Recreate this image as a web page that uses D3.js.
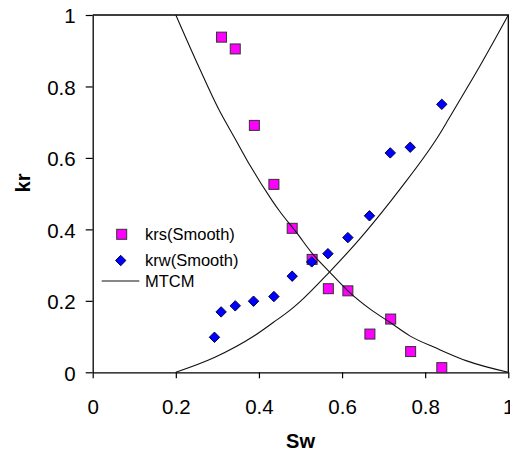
<!DOCTYPE html>
<html>
<head>
<meta charset="utf-8">
<script src="https://cdn.jsdelivr.net/npm/d3@7"></script>
<style>
  html, body { margin: 0; padding: 0; background: #fff; }
  svg { display: block; font-family: "Liberation Sans", Arial, sans-serif; }
</style>
</head>
<body>
<svg id="chart" width="510" height="453"></svg>
<script>
// Measured relative permeability (smoothed) for the solid/gas phase
const krsSw = [0.310, 0.343, 0.389, 0.436, 0.480, 0.528, 0.567, 0.614, 0.667, 0.717, 0.765, 0.840];
const krsVal = [0.938, 0.905, 0.691, 0.526, 0.403, 0.316, 0.234, 0.228, 0.107, 0.149, 0.058, 0.013];

// Measured relative permeability (smoothed) for water
const krwSw = [0.293, 0.309, 0.343, 0.387, 0.436, 0.480, 0.527, 0.566, 0.614, 0.666, 0.716, 0.764, 0.840];
const krwVal = [0.098, 0.169, 0.186, 0.199, 0.212, 0.269, 0.309, 0.332, 0.377, 0.438, 0.614, 0.630, 0.750];

// MTCM model curves
const mtcmSSw = [0.200, 0.258, 0.302, 0.342, 0.378, 0.431, 0.449, 0.491, 0.528, 0.569, 0.614, 0.671, 0.715, 0.763, 0.828, 0.900, 1.000];
const mtcmSVal = [1.000, 0.848, 0.739, 0.655, 0.580, 0.482, 0.452, 0.390, 0.333, 0.282, 0.228, 0.174, 0.140, 0.102, 0.067, 0.032, 0.000];
const mtcmWSw = [0.200, 0.294, 0.386, 0.435, 0.475, 0.499, 0.569, 0.640, 0.719, 0.739, 0.836, 0.856, 0.912, 0.932, 1.000];
const mtcmWVal = [0.000, 0.042, 0.100, 0.140, 0.174, 0.198, 0.280, 0.370, 0.482, 0.512, 0.669, 0.708, 0.818, 0.858, 1.000];

const tickValues = [0, 0.2, 0.4, 0.6, 0.8, 1];
const tickLabels = ["0", "0.2", "0.4", "0.6", "0.8", "1"];
const legendLabels = ["krs(Smooth)", "krw(Smooth)", "MTCM"];

const svg = d3.select("#chart");
const plotL = 92.7, plotR = 508.3, plotT = 15, plotB = 372.3;

const x = d3.scaleLinear().domain([0, 1]).range([plotL, plotR]);
const y = d3.scaleLinear().domain([0, 1]).range([plotB, plotT]);

// Plot frame (top and right edges)
svg.append("path")
  .attr("d", `M${plotL},${plotT}H${plotR}V${plotB}`)
  .attr("fill", "none").attr("stroke", "#000").attr("stroke-width", 1.3);

// Axes
const fmt = d => tickLabels[tickValues.indexOf(d)];
const xAxis = svg.append("g").attr("transform", `translate(0,${plotB})`)
  .call(d3.axisBottom(x).tickValues(tickValues).tickFormat(fmt).tickSize(6).tickPadding(21).tickSizeOuter(0));
const yAxis = svg.append("g").attr("transform", `translate(${plotL},0)`)
  .call(d3.axisLeft(y).tickValues(tickValues).tickFormat(fmt).tickSize(7).tickPadding(10).tickSizeOuter(0));

[xAxis, yAxis].forEach(g => {
  g.selectAll(".domain").attr("stroke", "#000").attr("stroke-width", 1.3);
  g.selectAll(".tick line").attr("stroke", "#000").attr("stroke-width", 1.2);
  g.selectAll(".tick text").attr("fill", "#000")
    .style("font-size", "20.5px").style("font-family", "'Liberation Sans', Arial, sans-serif");
});
yAxis.selectAll(".tick text").attr("dy", "0.38em");

// Axis titles
svg.append("text").attr("x", (plotL + plotR) / 2).attr("y", 448)
  .attr("text-anchor", "middle").style("font-size", "20px").style("font-weight", "bold")
  .text("Sw");
svg.append("text").attr("transform", "translate(30,183) rotate(-90)")
  .attr("text-anchor", "middle").style("font-size", "20px").style("font-weight", "bold")
  .text("kr");

// krs squares
const sq = 10;
svg.append("g").selectAll("rect")
  .data(d3.zip(krsSw, krsVal))
  .join("rect")
  .attr("x", d => x(d[0]) - sq / 2).attr("y", d => y(d[1]) - sq / 2)
  .attr("width", sq).attr("height", sq)
  .attr("fill", "#ff00ff").attr("stroke", "#333").attr("stroke-width", 1);

// krw diamonds
const diamond = (cx, cy, r) => `M${cx},${cy - r}L${cx + r},${cy}L${cx},${cy + r}L${cx - r},${cy}Z`;
svg.append("g").selectAll("path")
  .data(d3.zip(krwSw, krwVal))
  .join("path")
  .attr("d", d => diamond(x(d[0]), y(d[1]), 5.2))
  .attr("fill", "#0000ff").attr("stroke", "#000040").attr("stroke-width", 1);

// MTCM lines
const line = d3.line().x(d => x(d[0])).y(d => y(d[1])).curve(d3.curveMonotoneX);
[[mtcmSSw, mtcmSVal], [mtcmWSw, mtcmWVal]].forEach(([sw, kr]) => {
  svg.append("path").datum(d3.zip(sw, kr))
    .attr("d", line).attr("fill", "none").attr("stroke", "#111").attr("stroke-width", 1.1);
});

// Legend
const lg = svg.append("g").style("font-size", "16.5px");
lg.append("rect").attr("x", 121.7 - sq / 2).attr("y", 234.3 - sq / 2).attr("width", sq).attr("height", sq)
  .attr("fill", "#ff00ff").attr("stroke", "#333").attr("stroke-width", 1);
lg.append("path").attr("d", diamond(120.7, 260.5, 5.2))
  .attr("fill", "#0000ff").attr("stroke", "#000040").attr("stroke-width", 1);
lg.append("line").attr("x1", 101.7).attr("x2", 139.3).attr("y1", 281).attr("y2", 281)
  .attr("stroke", "#111").attr("stroke-width", 1.1);
[234.5, 260.5, 281].forEach((cy, i) => {
  lg.append("text").attr("x", 145).attr("y", cy).attr("dy", "0.36em").attr("fill", "#000")
    .text(legendLabels[i]);
});
</script>
</body>
</html>
